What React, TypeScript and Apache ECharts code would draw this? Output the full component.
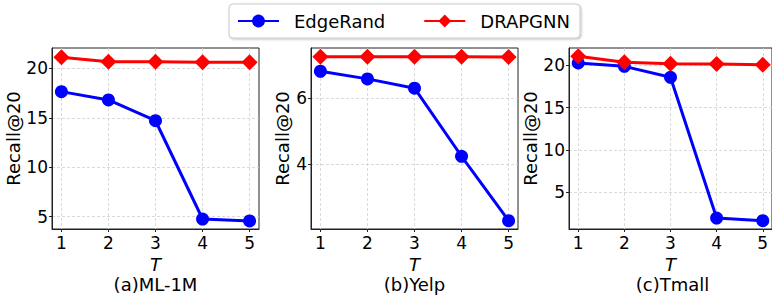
import React, { useEffect, useRef } from "react";
import * as echarts from "echarts";

const tValues = [1, 2, 3, 4, 5];
const seriesNames = ["EdgeRand", "DRAPGNN"];
const datasets = ["(a)ML-1M", "(b)Yelp", "(c)Tmall"];

const ml1mEdgeRand = [17.64, 16.8, 14.7, 4.77, 4.57];
const ml1mDrapgnn = [21.11, 20.67, 20.67, 20.6, 20.6];
const yelpEdgeRand = [6.8, 6.57, 6.29, 4.24, 2.3];
const yelpDrapgnn = [7.24, 7.24, 7.24, 7.24, 7.23];
const tmallEdgeRand = [20.28, 19.88, 18.58, 1.93, 1.61];
const tmallDrapgnn = [21.07, 20.36, 20.2, 20.16, 20.08];

const yMins = [3.76, 2.05, 0.63];
const yMaxs = [22.05, 7.5, 22.05];
const yIntervals = [5, 2, 5];
const yTicks = [
  [5, 10, 15, 20],
  [4, 6],
  [5, 10, 15, 20],
];

const edgeRandSets = [ml1mEdgeRand, yelpEdgeRand, tmallEdgeRand];
const drapgnnSets = [ml1mDrapgnn, yelpDrapgnn, tmallDrapgnn];

const FONT = "DejaVu Sans";
const gridLefts = [52, 311, 569];
const gridWidth = 207;
const gridTop = 48;
const gridHeight = 181;

export default function App() {
  const ref = useRef<HTMLDivElement>(null);
  useEffect(() => {
    if (!ref.current) return;
    const chart = echarts.init(ref.current, null, { renderer: "svg" });
    const grids = gridLefts.map((l) => ({
      left: l,
      top: gridTop,
      width: gridWidth,
      height: gridHeight,
      show: true,
      borderColor: "#222",
      borderWidth: 1,
      backgroundColor: "transparent",
    }));
    const xAxes = gridLefts.map((_, i) => ({
      type: "value",
      gridIndex: i,
      min: 0.8,
      max: 5.2,
      interval: 1,
      name: "T",
      nameLocation: "middle",
      nameGap: 15,
      nameTextStyle: {
        fontFamily: FONT,
        fontSize: 18,
        lineHeight: 18,
        fontStyle: "italic",
        color: "#000",
      },
      axisLine: { show: true, lineStyle: { color: "#222", width: 1 } },
      axisTick: { show: true, length: 3, customValues: tValues, lineStyle: { color: "#222" } },
      axisLabel: {
        customValues: tValues,
        fontFamily: FONT,
        fontSize: 17,
        color: "#000",
        margin: 5,
      },
      splitLine: { show: true, lineStyle: { color: "#d0d0d0", type: [3, 2], width: 0.8 } },
    }));
    const yAxes = gridLefts.map((_, i) => ({
      type: "value",
      gridIndex: i,
      min: yMins[i],
      max: yMaxs[i],
      interval: yIntervals[i],
      name: "Recall@20",
      nameLocation: "middle",
      nameGap: i === 1 ? 20 : 26,
      nameTextStyle: { fontFamily: FONT, fontSize: 18, color: "#000" },
      axisLine: { show: true, lineStyle: { color: "#222", width: 1 } },
      axisTick: { show: true, length: 3, customValues: yTicks[i], lineStyle: { color: "#222" } },
      axisLabel: {
        customValues: yTicks[i],
        fontFamily: FONT,
        fontSize: 17,
        color: "#000",
        margin: 4,
      },
      splitLine: { show: true, lineStyle: { color: "#d0d0d0", type: [3, 2], width: 0.8 } },
    }));
    const series: any[] = [];
    gridLefts.forEach((_, i) => {
      series.push({
        name: seriesNames[0],
        type: "line",
        xAxisIndex: i,
        yAxisIndex: i,
        data: tValues.map((t, k) => [t, edgeRandSets[i][k]]),
        symbol: "circle",
        symbolSize: 13,
        lineStyle: { color: "#0000ff", width: 3 },
        itemStyle: { color: "#0000ff" },
        z: 3,
      });
      series.push({
        name: seriesNames[1],
        type: "line",
        xAxisIndex: i,
        yAxisIndex: i,
        data: tValues.map((t, k) => [t, drapgnnSets[i][k]]),
        symbol: "diamond",
        symbolSize: 16,
        lineStyle: { color: "#ff0000", width: 3 },
        itemStyle: { color: "#ff0000" },
        z: 4,
      });
    });
    chart.setOption({
      animation: false,
      backgroundColor: "#fff",
      legend: {
        data: seriesNames,
        left: 229,
        top: 4,
        orient: "horizontal",
        itemWidth: 41,
        itemHeight: 16,
        itemGap: 38,
        padding: [8, 10, 8, 8],
        borderColor: "#cccccc",
        borderWidth: 1,
        borderRadius: 4,
        shadowColor: "rgba(0,0,0,0.25)",
        shadowBlur: 2,
        shadowOffsetX: 1,
        shadowOffsetY: 1,
        backgroundColor: "#fff",
        textStyle: { fontFamily: FONT, fontSize: 18, color: "#000", padding: [0, 0, 0, 10] },
      },
      grid: grids,
      xAxis: xAxes,
      yAxis: yAxes,
      series,
      graphic: datasets.map((d, i) => ({
        type: "text",
        x: gridLefts[i] + gridWidth / 2,
        y: 284,
        style: {
          text: d,
          fontFamily: FONT,
          fontSize: 18,
          lineHeight: 18,
          fill: "#000",
          textAlign: "center",
          textVerticalAlign: "middle",
        },
      })),
    });
    return () => chart.dispose();
  }, []);
  return <div ref={ref} style={{ width: 772, height: 295, position: "absolute", left: 0, top: 0 }} />;
}
